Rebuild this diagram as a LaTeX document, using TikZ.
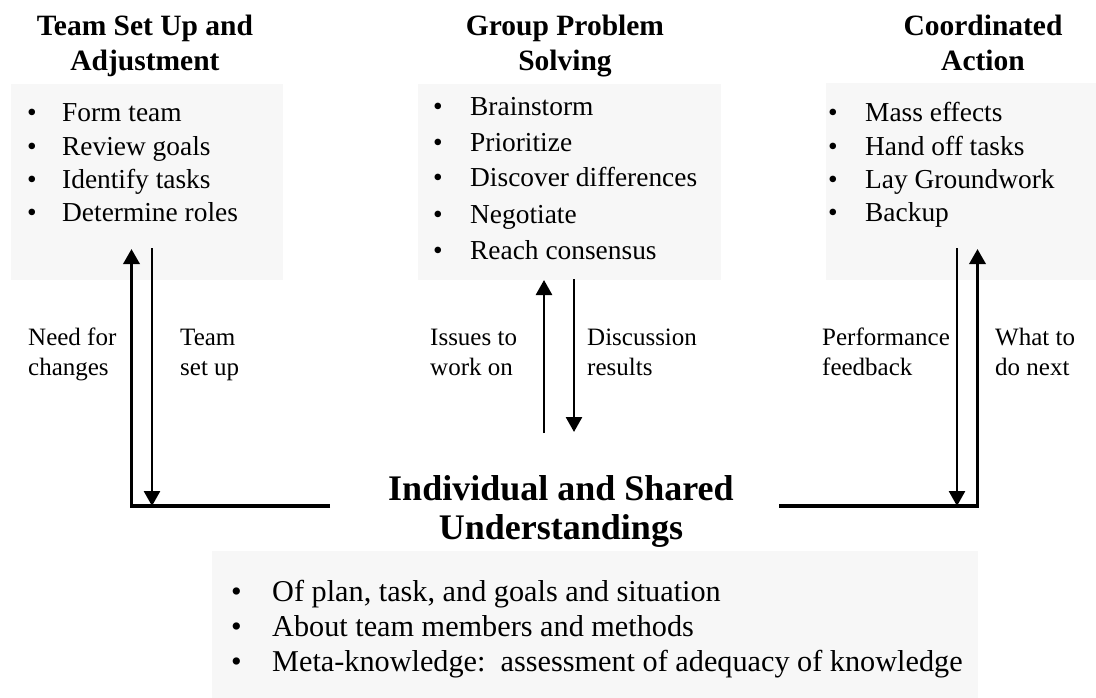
\documentclass[tikz,border=0pt]{standalone}
\usepackage{fontspec}
\setmainfont{Liberation Serif}
\usetikzlibrary{arrows.meta}
\definecolor{boxbg}{RGB}{247,247,247}
\newcommand{\mybul}[1]{\makebox[#1][l]{•}}
\begin{document}
\begin{tikzpicture}[x=1pt,y=-1pt,
  box/.style={fill=boxbg, draw=none, inner sep=0pt, anchor=north west},
  ttl/.style={font=\fontsize{29.5}{35}\selectfont\bfseries, inner sep=0pt, anchor=base},
  bigttl/.style={font=\fontsize{36}{40}\selectfont\bfseries, inner sep=0pt, anchor=base},
  itm/.style={font=\fontsize{27.4}{33}\selectfont, inner sep=0pt, anchor=base west},
  bitm/.style={font=\fontsize{30.25}{35}\selectfont, inner sep=0pt, anchor=base west},
  lbl/.style={font=\fontsize{25}{30}\selectfont, inner sep=0pt, anchor=base west},
  thin/.style={line width=2.7pt},
  thick/.style={line width=3.4pt},
  tip/.style={-{Triangle[length=15pt,width=16pt]}}]
\useasboundingbox (0,0) rectangle (1096,698);

% boxes
\node[box, minimum width=272pt, minimum height=196pt] (b1) at (11,84) {};
\node[box, minimum width=303pt, minimum height=196pt] (b2) at (418,84) {};
\node[box, minimum width=270pt, minimum height=197pt] (b3) at (826,83) {};
\node[box, minimum width=766pt, minimum height=147pt] (b4) at (212,551) {};

% titles
\node[ttl] (t1a) at (145,36) {Team Set Up and};
\node[ttl] (t1b) at (145,71) {Adjustment};
\node[ttl] (t2a) at (565,36) {Group Problem};
\node[ttl] (t2b) at (565,71) {Solving};
\node[ttl] (t3a) at (983,36) {Coordinated};
\node[ttl] (t3b) at (983,71) {Action};
\node[bigttl] (t4a) at (561,500) {Individual and Shared};
\node[bigttl] (t4b) at (561,539) {Understandings};

% list 1
\node[itm] (l1a) at (27,122) {\mybul{35pt}Form team};
\node[itm] (l1b) at (27,155.5) {\mybul{35pt}Review goals};
\node[itm] (l1c) at (27,189) {\mybul{35pt}Identify tasks};
\node[itm] (l1d) at (27,222) {\mybul{35pt}Determine roles};
% list 2
\node[itm] (l2a) at (433,116) {\mybul{37pt}Brainstorm};
\node[itm] (l2b) at (433,152) {\mybul{37pt}Prioritize};
\node[itm] (l2c) at (433,187) {\mybul{37pt}Discover differences};
\node[itm] (l2d) at (433,223) {\mybul{37pt}Negotiate};
\node[itm] (l2e) at (433,259) {\mybul{37pt}Reach consensus};
% list 3
\node[itm] (l3a) at (828,122) {\mybul{37pt}Mass effects};
\node[itm] (l3b) at (828,155.5) {\mybul{37pt}Hand off tasks};
\node[itm] (l3c) at (828,189) {\mybul{37pt}Lay Groundwork};
\node[itm] (l3d) at (828,222) {\mybul{37pt}Backup};
% list 4
\node[bitm] (l4a) at (231,601) {\mybul{41pt}Of plan, task, and goals and situation};
\node[bitm] (l4b) at (231,636) {\mybul{41pt}About team members and methods};
\node[bitm] (l4c) at (231,671) {\mybul{41pt}Meta-knowledge:\ \ assessment of adequacy of knowledge};

% labels
\node[lbl] (n1a) at (28,345) {Need for};
\node[lbl] (n1b) at (28,375) {changes};
\node[lbl] (n2a) at (180,345) {Team};
\node[lbl] (n2b) at (180,375) {set up};
\node[lbl] (n3a) at (430,345) {Issues to};
\node[lbl] (n3b) at (430,375) {work on};
\node[lbl] (n4a) at (587,345) {Discussion};
\node[lbl] (n4b) at (587,375) {results};
\node[lbl] (n5a) at (822,345) {Performance};
\node[lbl] (n5b) at (822,375) {feedback};
\node[lbl] (n6a) at (995,345) {What to};
\node[lbl] (n6b) at (995,375) {do next};

% connector end points
\coordinate (hl) at (330,506);
\coordinate (upL) at (131.5,249);
\coordinate (dnLs) at (152,248);
\coordinate (dnLe) at (152,506);
\coordinate (upMs) at (544,433);
\coordinate (upMe) at (544,280);
\coordinate (dnMs) at (574,279);
\coordinate (dnMe) at (574,432);
\coordinate (hr) at (779,506);
\coordinate (upR) at (977.5,249);
\coordinate (dnRs) at (957,248);
\coordinate (dnRe) at (957,506);

% connectors
\draw[thick, tip, line join=miter] (hl) -| (upL);
\draw[thin, tip] (dnLs) -- (dnLe);
\draw[thin, tip] (upMs) -- (upMe);
\draw[thin, tip] (dnMs) -- (dnMe);
\draw[thick, tip, line join=miter] (hr) -| (upR);
\draw[thin, tip] (dnRs) -- (dnRe);
\end{tikzpicture}
\end{document}
